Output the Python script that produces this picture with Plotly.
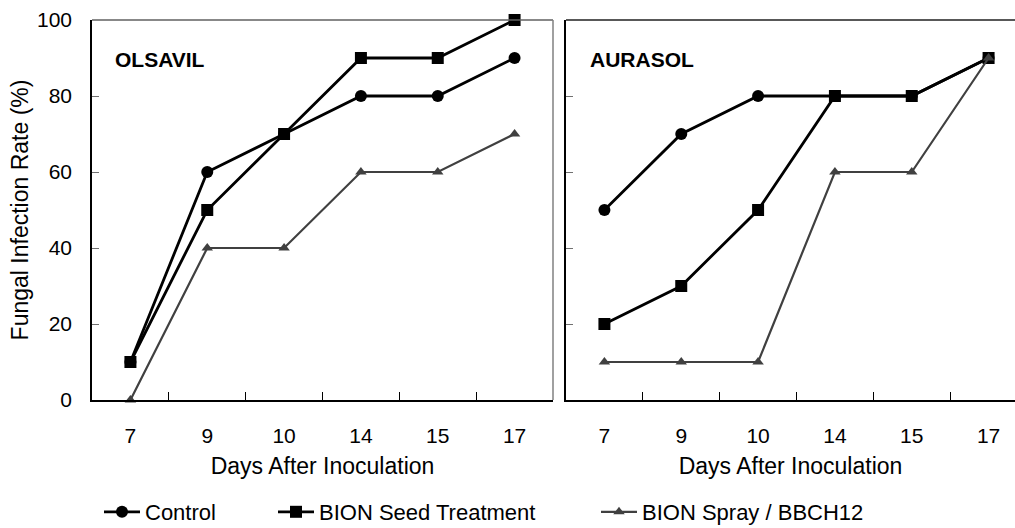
import plotly.graph_objects as go

days = ["7", "9", "10", "14", "15", "17"]
yticks = [0, 20, 40, 60, 80, 100]

olsavil_control = [10, 60, 70, 80, 80, 90]
olsavil_seed = [10, 50, 70, 90, 90, 100]
olsavil_spray = [0, 40, 40, 60, 60, 70]

aurasol_control = [50, 70, 80, 80, 80, 90]
aurasol_seed = [20, 30, 50, 80, 80, 90]
aurasol_spray = [10, 10, 10, 60, 60, 90]

series_names = ["Control", "BION Seed Treatment", "BION Spray / BBCH12"]
FONT = "Liberation Sans, Arial, sans-serif"
FS = 21
FT = 23

styles = [
    dict(color="#000000", width=2.8, symbol="circle", size=12),
    dict(color="#000000", width=2.8, symbol="square", size=12),
    dict(color="#404040", width=2.2, symbol="triangle-up", size=10),
]

fig = go.Figure()
panels = [
    ("x", "y", [olsavil_control, olsavil_seed, olsavil_spray], True),
    ("x2", "y2", [aurasol_control, aurasol_seed, aurasol_spray], False),
]
legend_ids = ["legend", "legend2", "legend3"]
for xa, ya, data, show in panels:
    for i, (name, vals) in enumerate(zip(series_names, data)):
        st = styles[i]
        fig.add_trace(go.Scatter(
            x=days, y=vals, name=name, mode="lines+markers",
            xaxis=xa, yaxis=ya,
            line=dict(color=st["color"], width=st["width"]),
            marker=dict(symbol=st["symbol"], size=st["size"], color=st["color"]),
            legendgroup=name, showlegend=show, legend=legend_ids[i],
            cliponaxis=False,
        ))

n = len(days)
axis_common = dict(
    type="category", categoryorder="array", categoryarray=days,
    tickson="boundaries", ticks="inside", ticklen=8, tickcolor="#000000",
    showline=True, linecolor="#000000", linewidth=1.5,
    showgrid=False, zeroline=False,
    tickfont=dict(family=FONT, size=FS, color="#000000"),
    ticklabelstandoff=16,
    title=dict(text="Days After Inoculation", font=dict(family=FONT, size=FT, color="#000000"), standoff=12),
)
left_px, right_end = 92, 1015
W = right_end - left_px
d1_end = (553 - left_px) / W
d2_start = (566 - left_px) / W
cat_w = (553 - 92) / n
r2_end = -0.5 + (1015 - 566) / cat_w

fig.update_layout(
    width=1015, height=528,
    margin=dict(l=92, r=0, t=20, b=128),
    paper_bgcolor="white", plot_bgcolor="white",
    font=dict(family=FONT, size=FS, color="#000000"),
    xaxis=dict(domain=[0, d1_end], range=[-0.5, n - 0.5], **axis_common),
    xaxis2=dict(domain=[d2_start, 1], range=[-0.5, r2_end], anchor="y2", **axis_common),
    yaxis=dict(
        range=[0, 100], tickvals=yticks, ticks="inside", ticklen=7, tickcolor="#707070",
        showline=True, linecolor="#000000", linewidth=1.5, showgrid=False, zeroline=False,
        tickfont=dict(family=FONT, size=FS, color="#000000"), ticklabelstandoff=14,
        title=dict(text="Fungal Infection Rate (%)", font=dict(family=FONT, size=FT), standoff=2),
    ),
    yaxis2=dict(
        range=[0, 100], tickvals=yticks, ticks="inside", ticklen=7, tickcolor="#707070",
        showticklabels=False, anchor="x2",
        showline=True, linecolor="#000000", linewidth=1.5, showgrid=False, zeroline=False,
    ),
    shapes=[
        dict(type="line", xref="x domain", yref="y domain", x0=0, x1=1, y0=1, y1=1,
             line=dict(color="#606060", width=1.5)),
        dict(type="line", xref="x domain", yref="y domain", x0=1, x1=1, y0=0, y1=1,
             line=dict(color="#808080", width=1.5)),
        dict(type="line", xref="x2 domain", yref="y2 domain", x0=0, x1=1, y0=1, y1=1,
             line=dict(color="#202020", width=1.5)),
    ],
    annotations=[
        dict(text="<b>OLSAVIL</b>", xref="x domain", yref="y domain", x=0.045, y=0.895,
             xanchor="left", yanchor="middle", showarrow=False,
             font=dict(family=FONT, size=FS, color="#000000")),
        dict(text="<b>AURASOL</b>", xref="x2 domain", yref="y2 domain", x=0.05, y=0.895,
             xanchor="left", yanchor="middle", showarrow=False,
             font=dict(family=FONT, size=FS, color="#000000")),
    ],
)

leg_x = [99, 273, 596]
for lid, xp in zip(legend_ids, leg_x):
    fig.update_layout({lid: dict(
        orientation="h", xref="container", yref="container",
        x=xp / 1015, y=1 - 512 / 528, xanchor="left", yanchor="middle",
        bgcolor="rgba(0,0,0,0)", font=dict(family=FONT, size=22, color="#000000"),
        itemwidth=36, tracegroupgap=0,
    )})

fig.write_html("out.html")
